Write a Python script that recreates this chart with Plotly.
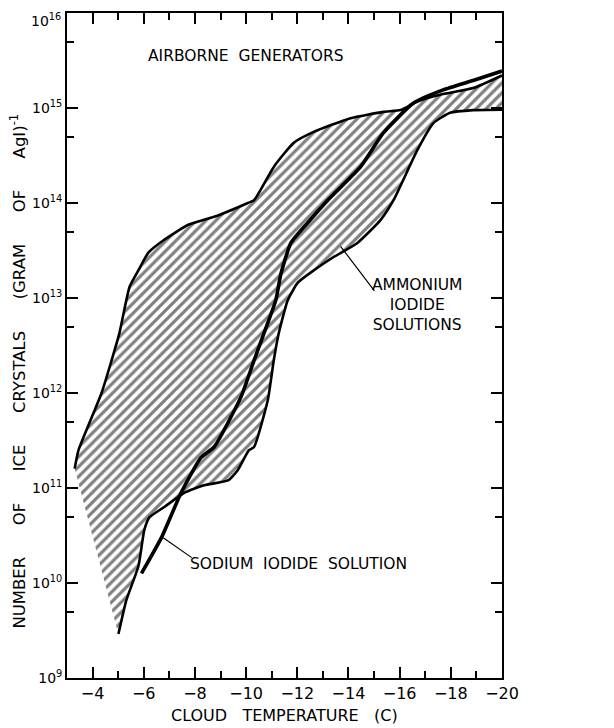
import numpy as np
import plotly.graph_objects as go

# Upper envelope of the hatched band (cloud temperature C, crystals per gram AgI)
upper_T = [-3.3, -3.45, -4.35, -5.05, -5.44, -5.79, -6.18, -6.8, -7.74, -8.9, -10.07, -10.31,
           -11.08, -11.86, -12.64, -14.08, -15.37, -16.03, -16.69, -17.58, -18.87, -20.0]
upper_N = [1.6e11, 2.5e11, 1.0e12, 4.3e12, 1.3e13, 1.95e13, 3.0e13, 4.1e13, 5.9e13, 7.4e13, 1.0e14, 1.07e14,
           2.4e14, 4.3e14, 5.6e14, 7.8e14, 9.1e14, 9.5e14, 1.17e15, 1.38e15, 1.62e15, 2.2e15]

# Lower envelope (ammonium iodide solutions)
lower_T = [-5.01, -5.32, -5.79, -6.02, -6.22, -6.8, -7.58, -8.36, -9.29, -9.68, -10.11, -10.31,
           -10.85, -11.08, -11.28, -11.63, -12.02, -12.64, -13.42, -14.35, -15.25, -15.76,
           -16.69, -17.31, -17.97, -18.87, -20.0]
lower_N = [2.9e9, 6.6e9, 1.5e10, 3.6e10, 4.9e10, 6.3e10, 8.9e10, 1.07e11, 1.2e11, 1.55e11, 2.5e11, 2.7e11,
           8.5e11, 2.2e12, 4.3e12, 9.5e12, 1.45e13, 1.95e13, 2.7e13, 3.8e13, 6.6e13, 1.07e14,
           3.6e14, 6.9e14, 8.9e14, 9.5e14, 9.6e14]

# Sodium iodide solution curve
sodium_T = [-5.91, -6.69, -7.46, -8.24, -8.75, -9.8, -10.31, -10.85, -11.16, -11.36, -11.75, -12.41,
            -13.19, -14.47, -15.37, -16.53, -17.7, -18.87, -20.0]
sodium_N = [1.26e10, 3.0e10, 8.9e10, 2.1e11, 2.7e11, 9.1e11, 2.2e12, 5.5e12, 9.5e12, 1.8e13, 3.8e13, 6.2e13,
            1.07e14, 2.4e14, 5.5e14, 1.12e15, 1.55e15, 1.95e15, 2.45e15]

x_ticks = [-4, -6, -8, -10, -12, -14, -16, -18, -20]
x_labels = ["\u2212" + str(-v) for v in x_ticks]
x_minor = [-5, -7, -9, -11, -13, -15, -17, -19]
y_exps = [9, 10, 11, 12, 13, 14, 15, 16]
y_ticks = [10.0 ** e for e in y_exps]
y_labels = ["10<sup>%d</sup>" % e for e in y_exps]
y_minor = [5 * 10.0 ** e for e in y_exps[:-1]]

FONT = "DejaVu Sans"
SP = "&nbsp;" * 6

fig = go.Figure()

# hatched band
fig.add_trace(go.Scatter(
    x=upper_T + lower_T[::-1], y=upper_N + lower_N[::-1],
    mode="lines", fill="toself", line=dict(width=0, color="rgba(0,0,0,0)"),
    fillcolor="white",
    fillpattern=dict(shape="/", size=7, solidity=0.45, fgcolor="black", bgcolor="white"),
    hoverinfo="skip", showlegend=False))

line_shape = dict(shape="spline", smoothing=0.5)
fig.add_trace(go.Scatter(x=upper_T, y=upper_N, mode="lines",
                         line=dict(color="black", width=2.6, **line_shape), showlegend=False))
fig.add_trace(go.Scatter(x=lower_T, y=lower_N, mode="lines",
                         line=dict(color="black", width=2.6, **line_shape), showlegend=False))
fig.add_trace(go.Scatter(x=sodium_T, y=sodium_N, mode="lines",
                         line=dict(color="black", width=3.6, **line_shape), showlegend=False))

tfont = dict(family=FONT, size=15.5, color="black")
fig.add_annotation(x=-10.0, y=np.log10(3.5e15), text="AIRBORNE" + "&nbsp;&nbsp;" + "GENERATORS",
                   showarrow=False, font=tfont)
fig.add_annotation(x=-16.69, y=np.log10(8.5e12), text="AMMONIUM<br>IODIDE<br>SOLUTIONS",
                   showarrow=False, font=tfont, align="center")
fig.add_annotation(x=-12.06, y=np.log10(1.6e10), text="SODIUM&nbsp;&nbsp;IODIDE&nbsp;&nbsp;SOLUTION",
                   showarrow=False, font=tfont)
# leaders
fig.add_annotation(x=-13.69, y=np.log10(3.5e13), ax=35, ay=46, text="", showarrow=True,
                   arrowhead=0, arrowwidth=1.2, arrowcolor="black")
fig.add_annotation(x=-6.76, y=np.log10(3.0e10), ax=30, ay=21, text="", showarrow=True,
                   arrowhead=0, arrowwidth=1.2, arrowcolor="black")

# top tick label (placed just below the frame top so it is not clipped)
fig.add_annotation(xref="paper", x=0, xanchor="right", xshift=-4, y=y_exps[-1], yanchor="top",
                   yshift=4, text=y_labels[-1], showarrow=False,
                   font=dict(family=FONT, size=14, color="black"))

# axis titles
fig.add_annotation(xref="paper", yref="paper", x=-0.113, y=0.462, xanchor="center", yanchor="middle",
                   textangle=-90,
                   text=SP.join(["NUMBER", "OF", "ICE", "CRYSTALS", "(GRAM", "OF", "AgI)<sup>-1</sup>"]),
                   showarrow=False, font=dict(family=FONT, size=16.5, color="black"))
fig.add_annotation(xref="paper", yref="paper", x=0.5, y=-0.056, yanchor="middle",
                   text="CLOUD" + "&nbsp;&nbsp;&nbsp;" + "TEMPERATURE" + "&nbsp;&nbsp;&nbsp;" + "(C)",
                   showarrow=False, font=dict(family=FONT, size=16, color="black"))

fig.update_xaxes(range=[-3, -20], tickvals=x_ticks, ticktext=x_labels, automargin=False,
                 ticklabeloverflow="allow",
                 ticks="inside", ticklen=11, tickwidth=1.5, tickcolor="black",
                 showline=True, linecolor="black", linewidth=1.8, mirror="allticks",
                 showgrid=False, zeroline=False,
                 minor=dict(tickvals=x_minor, ticks="inside", ticklen=7, tickwidth=1.5,
                            tickcolor="black", showgrid=False),
                 tickfont=dict(family=FONT, size=16, color="black"))
fig.update_yaxes(type="log", range=[9, 16], tickvals=y_ticks, ticktext=y_labels[:-1] + [""],
                 automargin=False, ticklabeloverflow="allow",
                 ticks="inside", ticklen=11, tickwidth=1.5, tickcolor="black",
                 showline=True, linecolor="black", linewidth=1.8, mirror="allticks",
                 showgrid=False, zeroline=False,
                 minor=dict(tickvals=y_minor, ticks="inside", ticklen=7, tickwidth=1.5,
                            tickcolor="black", showgrid=False),
                 tickfont=dict(family=FONT, size=14, color="black"))

fig.update_layout(width=614, height=728, margin=dict(l=59, r=120, t=5, b=58),
                  paper_bgcolor="white", plot_bgcolor="white", showlegend=False)

fig.write_html("out.html")
